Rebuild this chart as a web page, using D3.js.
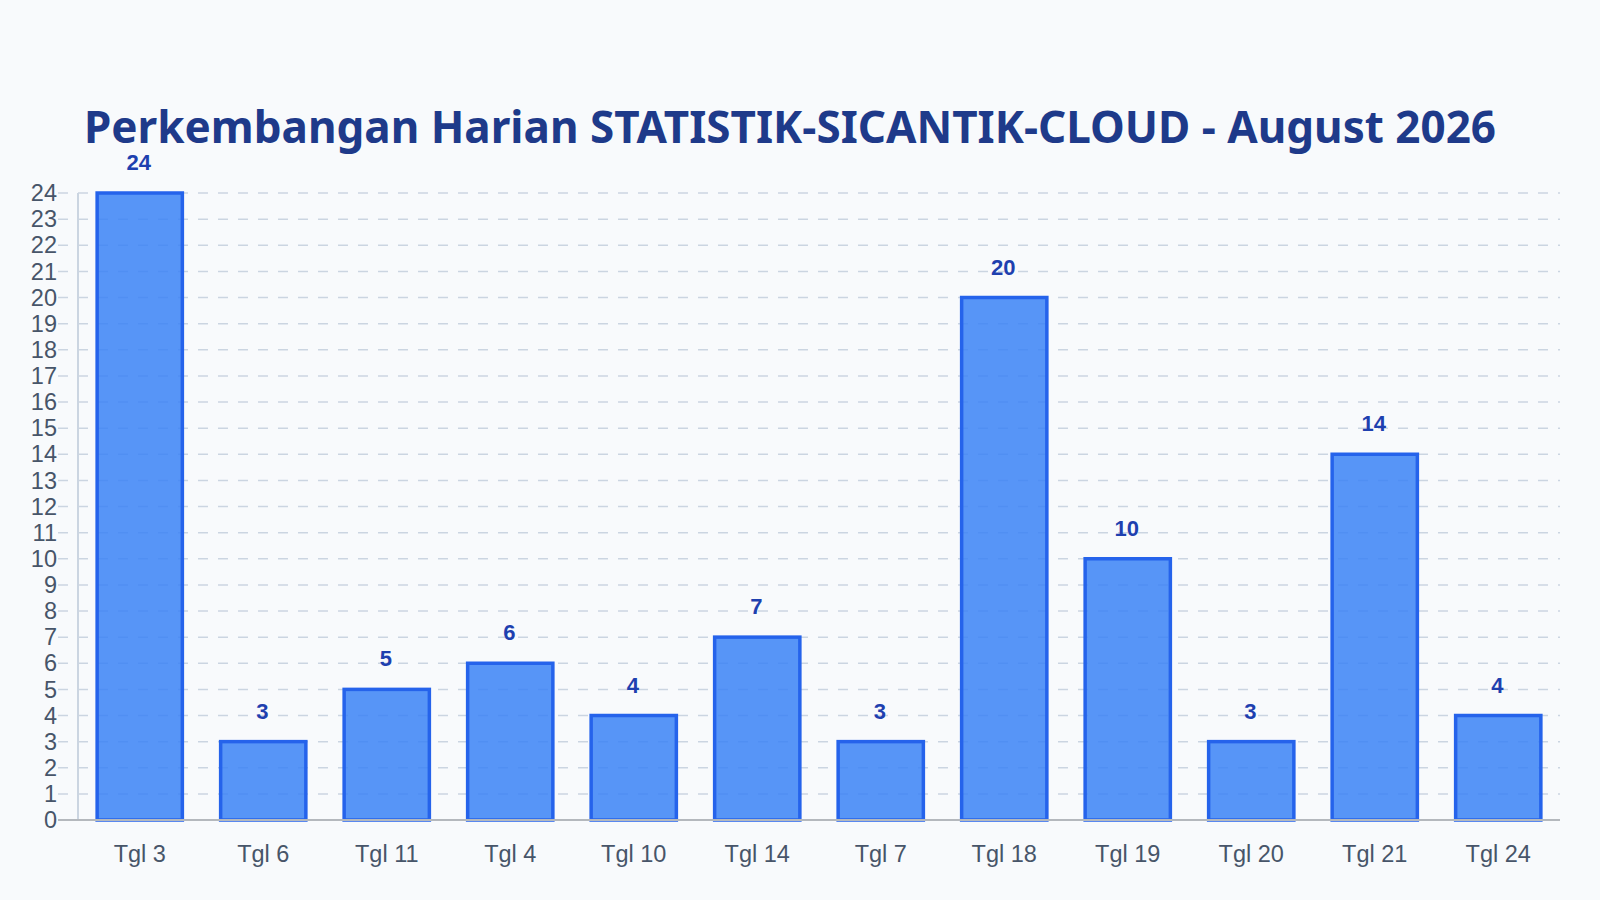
<!DOCTYPE html>
<html>
<meta charset="utf-8">
<head>
    <script src="https://d3js.org/d3.v7.min.js"></script>
</head>

<style>
  body { margin: 0; background: #f8fafc; }
  svg text { font-family: "Liberation Sans", Arial, sans-serif; }
  svg .title {
  font-family: "Noto Sans", sans-serif;
  font-size: 44px;
  font-weight: 700;
  fill: #1e3a8a;
  text-anchor: middle;
  }
  svg .grid line {
  stroke: #cbd5e1;
  stroke-width: 1.5;
  stroke-dasharray: 10 10;
  }
  svg .bar {
  fill: #3b82f6;
  fill-opacity: .85;
  stroke: #2563eb;
  stroke-width: 3.5;
  }
  svg .value {
  fill: #1e40af;
  font-size: 22px;
  font-weight: 700;
  text-anchor: middle;
  }
  svg .tick-label {
  fill: #475569;
  font-size: 23.5px;
  }
</style>

<body>
    <script>
        // data
        var days = ["Tgl 3", "Tgl 6", "Tgl 11", "Tgl 4", "Tgl 10", "Tgl 14",
                    "Tgl 7", "Tgl 18", "Tgl 19", "Tgl 20", "Tgl 21", "Tgl 24"];
        var counts = [24, 3, 5, 6, 4, 7, 3, 20, 10, 3, 14, 4];
        var title = "Perkembangan Harian STATISTIK-SICANTIK-CLOUD - August 2026";

        var width = 1600,
            height = 900;

        var svg = d3.select("body").append("svg")
            .attr("width", width)
            .attr("height", height);

        svg.append("rect")
            .attr("width", width)
            .attr("height", height)
            .attr("fill", "#f8fafc");

        var x = d3.scaleBand()
            .domain(days)
            .range([78, 1560])
            .paddingInner(0.31)
            .paddingOuter(0.155);

        var y = d3.scaleLinear()
            .domain([0, d3.max(counts)])
            .range([820, 193]);

        var yTicks = y.ticks(24);

        svg.append("text")
            .attr("class", "title")
            .attr("x", 790)
            .attr("y", 143)
            .text(title);

        // dashed grid
        var grid = svg.append("g").attr("class", "grid");
        grid.selectAll("line")
            .data(yTicks.filter(function(d) { return d > 0; }))
            .enter().append("line")
            .attr("x1", 58)
            .attr("x2", 1560)
            .attr("y1", function(d) { return y(d); })
            .attr("y2", function(d) { return y(d); });

        // left axis line
        svg.append("line")
            .attr("x1", 78).attr("x2", 78)
            .attr("y1", y.range()[1]).attr("y2", y(0))
            .attr("stroke", "#cbd5e1")
            .attr("stroke-width", 2);

        svg.selectAll("text.ylab")
            .data(yTicks)
            .enter().append("text")
            .attr("class", "tick-label ylab")
            .attr("x", 57)
            .attr("y", function(d) { return y(d); })
            .attr("dy", "0.35em")
            .attr("text-anchor", "end")
            .text(function(d) { return d; });

        var data = days.map(function(d, i) { return {day: d, count: counts[i]}; });

        svg.selectAll("rect.bar")
            .data(data)
            .enter().append("rect")
            .attr("class", "bar")
            .attr("x", function(d) { return x(d.day); })
            .attr("width", x.bandwidth())
            .attr("y", function(d) { return y(d.count); })
            .attr("height", function(d) { return y(0) - y(d.count); });

        // bottom axis line
        svg.append("line")
            .attr("x1", 58).attr("x2", 1560)
            .attr("y1", y(0)).attr("y2", y(0))
            .attr("stroke", "#b4b8bd")
            .attr("stroke-width", 2);

        svg.selectAll("text.value")
            .data(data)
            .enter().append("text")
            .attr("class", "value")
            .attr("x", function(d) { return x(d.day) + x.bandwidth() / 2 - 1; })
            .attr("y", function(d) { return y(d.count) - 23; })
            .text(function(d) { return d.count; });

        svg.selectAll("text.xlab")
            .data(days)
            .enter().append("text")
            .attr("class", "tick-label xlab")
            .attr("x", function(d) { return x(d) + x.bandwidth() / 2; })
            .attr("y", 862)
            .attr("text-anchor", "middle")
            .text(function(d) { return d; });
    </script>
</body>
</html>
